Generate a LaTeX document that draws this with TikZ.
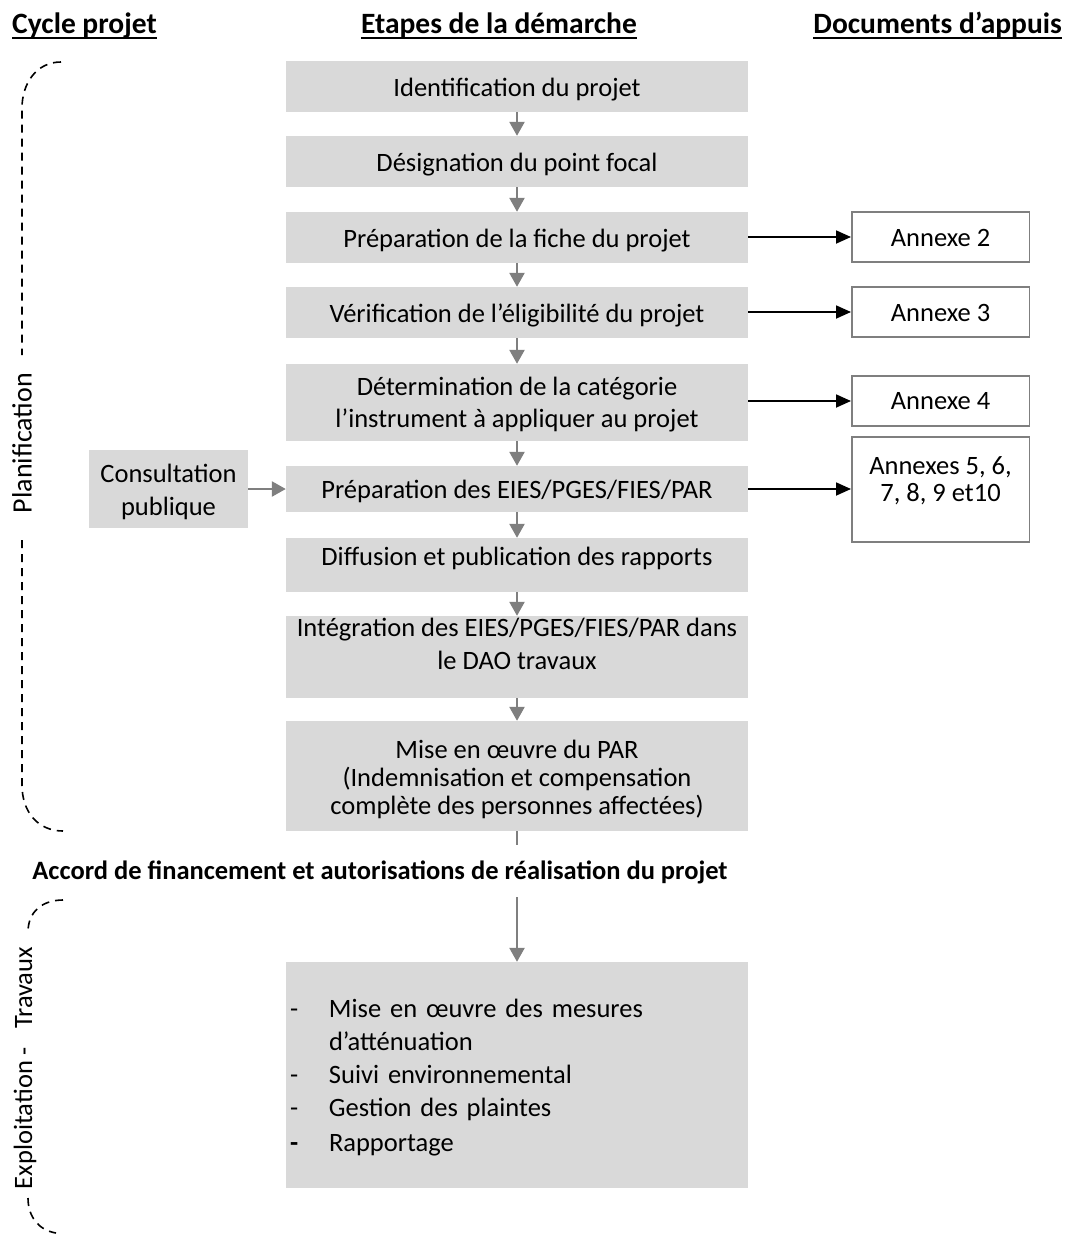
\documentclass[tikz,border=0pt]{standalone}
\usepackage{fontspec}
\setmainfont{Carlito}
\usetikzlibrary{arrows.meta}
\definecolor{boxgray}{HTML}{D9D9D9}
\definecolor{arrgray}{HTML}{7F7F7F}
\newcommand{\bodyfs}{\fontsize{26.5}{32}\selectfont}
% text lines, shifted vertically by #1 (negative = lower)
\newcommand{\tx}[2][-3.6pt]{\raisebox{#1}[\height][\depth]{\begin{tabular}{@{}c@{}}#2\end{tabular}}}
\begin{document}
\begin{tikzpicture}[x=1pt,y=-1pt,
  every node/.style={inner sep=0pt, font=\bodyfs},
  stepbox/.style={fill=boxgray, minimum width=462pt, align=center},
  sidebox/.style={fill=boxgray, minimum width=159pt, minimum height=78pt, align=center},
  annexbox/.style={draw=arrgray, line width=1.5pt, minimum width=177.5pt, align=center},
  garrow/.style={draw=arrgray, line width=2.5pt, -{Triangle[length=14pt,width=15pt]}},
  gline/.style={draw=arrgray, line width=2.5pt},
  barrow/.style={draw=black, line width=1.8pt, -{Triangle[length=15pt,width=13pt]}},
  bracket/.style={draw=black, line width=1.6pt, dash pattern=on 8pt off 6pt},
  header/.style={font=\fontsize{29.5}{34}\selectfont\bfseries},
  uline/.style={draw=black, line width=2pt},
]
\useasboundingbox (0,0) rectangle (1067,1234);

% headers
\node[header, anchor=base west] (h1) at (12,33) {Cycle projet};
\node[header, anchor=base] (h2) at (499,33) {Etapes de la démarche};
\node[header, anchor=base east] (h3) at (1062,33) {Documents d’appuis};
\foreach \h in {h1,h2,h3}{\draw[uline] ([yshift=-5pt]\h.base west) -- ([yshift=-5pt]\h.base east);}

% main steps
\node[stepbox, minimum height=51pt] (b1) at (517,86.5) {\tx{Identification du projet}};
\node[stepbox, minimum height=51pt] (b2) at (517,161.5) {\tx{Désignation du point focal}};
\node[stepbox, minimum height=51pt] (b3) at (517,237.5) {\tx{Préparation de la fiche du projet}};
\node[stepbox, minimum height=51pt] (b4) at (517,312.5) {\tx{Vérification de l’éligibilité du projet}};
\node[stepbox, minimum height=77pt] (b5) at (517,402.5) {\tx[-2.5pt]{Détermination de la catégorie\\l’instrument à appliquer au projet}};
\node[stepbox, minimum height=46pt] (b6) at (517,489) {\tx[-3pt]{Préparation des EIES/PGES/FIES/PAR}};
\node[stepbox, minimum height=54pt] (b7) at (517,565) {\tx[6pt]{Diffusion et publication des rapports}};
\node[stepbox, minimum height=82pt, font=\fontsize{26.5}{33}\selectfont] (b8) at (517,657) {\tx[10.5pt]{Intégration des EIES/PGES/FIES/PAR dans\\le DAO travaux}};
\node[stepbox, minimum height=110pt, font=\fontsize{26.5}{28}\selectfont] (b9) at (517,776) {\tx[-5pt]{Mise en œuvre du PAR\\(Indemnisation et compensation\\complète des personnes affectées)}};

\node[stepbox, minimum height=226pt, text width=454pt, inner xsep=4pt, align=left] (b10) at (517,1075)
  {\raisebox{-3pt}[\height][\depth]{\begin{tabular}{@{}p{39pt}@{}l@{}}
   - & Mise en œuvre des\hspace{9pt}mesures\\[1pt]
     & d’atténuation\\[1pt]
   - & Suivi environnemental\\[1pt]
   - & Gestion des plaintes\\[3pt]
   \textbf{-} & Rapportage
   \end{tabular}}};

% side input
\node[sidebox, font=\fontsize{26.5}{33}\selectfont] (cp) at (168.5,489) {\tx[-3.5pt]{Consultation\\publique}};

% annexes
\node[annexbox, minimum height=50pt] (a2) at (940.5,237) {\tx[-3pt]{Annexe 2}};
\node[annexbox, minimum height=50pt] (a3) at (940.5,312) {\tx[-3pt]{Annexe 3}};
\node[annexbox, minimum height=50pt] (a4) at (940.5,401) {\tx[-2pt]{Annexe 4}};
\node[annexbox, minimum height=105pt, font=\fontsize{26.5}{27}\selectfont] (a5) at (940.5,489.5) {\tx[7.4pt]{Annexes 5, 6,\\7, 8, 9 et10}};

% accord
\node[font=\fontsize{26.5}{32}\selectfont\bfseries, anchor=base] (acc) at (380,879) {Accord de financement et autorisations de réalisation du projet};
\coordinate (accin) at (517,845);
\coordinate (accout) at (517,897);

% gray connectors
\draw[garrow] (b1) -- (b2);
\draw[garrow] (b2) -- (b3);
\draw[garrow] (b3) -- (b4);
\draw[garrow] (b4) -- (b5);
\draw[garrow] (b5) -- (b6);
\draw[garrow] (b6) -- (b7);
\draw[garrow] (b7) -- (b8);
\draw[garrow] (b8) -- (b9);
\draw[gline] (b9.south) -- (accin);
\draw[garrow] (accout) -- (b10.north);
\draw[garrow] (cp) -- (b6);

% black connectors
\draw[barrow] (b3.east |- a2.west) -- (a2.west);
\draw[barrow] (b4.east |- a3.west) -- (a3.west);
\draw[barrow] (b5.east |- a4.west) -- (a4.west);
\draw[barrow] (b6.east) -- (b6.east -| a5.west);

% cycle brackets
\node[rotate=90, font=\fontsize{28}{32}\selectfont] (plan) at (22,443) {Planification};
\draw[bracket] (61,62) .. controls (36,62) and (22,84) .. (22,108) -- (22,355);
\draw[bracket] (22,540) -- (22,785) .. controls (22,812) and (38,831) .. (63,831);
\node[rotate=90] (trav) at (25,1068) {Exploitation -\ \ \ Travaux};
\draw[bracket] (63,900) .. controls (42,900) and (28,912) .. (28,932);
\draw[bracket] (28,1198) .. controls (28,1216) and (38,1230) .. (56,1233);
\end{tikzpicture}
\end{document}
